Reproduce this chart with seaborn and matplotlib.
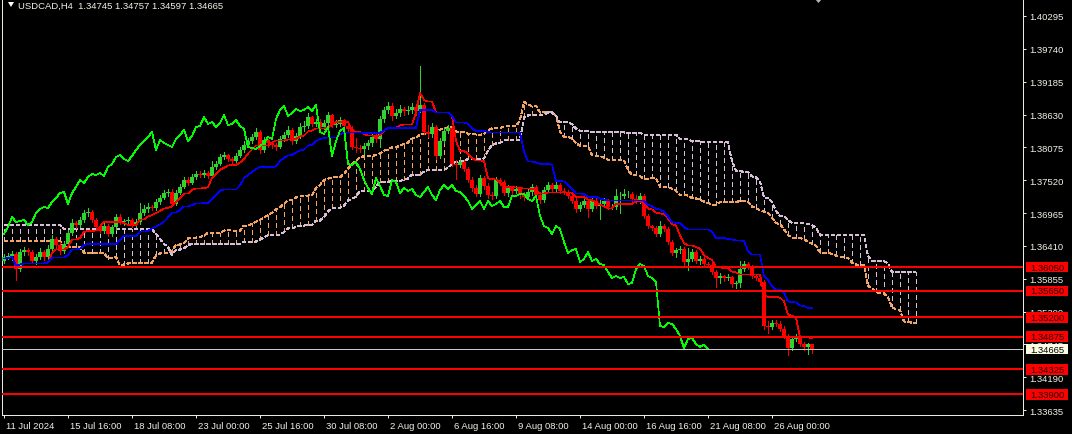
import numpy as np
import pandas as pd
import matplotlib
matplotlib.use("Agg")
import matplotlib.pyplot as plt
import seaborn as sns
from matplotlib import transforms
from matplotlib.patches import Rectangle, Polygon

# ---------------- data ----------------
symbol = "USDCAD,H4"
first_open = 1.36154

closes = [
    1.36222, 1.36239, 1.36272, 1.36019, 1.36306, 1.36340, 1.36306, 1.36154, 1.36222, 1.36306,
    1.36222, 1.36357, 1.36526, 1.36425, 1.36323, 1.36441, 1.36627, 1.36796, 1.36763, 1.36847,
    1.36965, 1.36982, 1.36847, 1.36729, 1.36661, 1.36746, 1.36610, 1.36729, 1.36898, 1.36813,
    1.36830, 1.36847, 1.36763, 1.36813, 1.36965, 1.37033, 1.37067, 1.37050, 1.37151, 1.37219,
    1.37303, 1.37320, 1.37117, 1.37303, 1.37405, 1.37523, 1.37472, 1.37574, 1.37624, 1.37607,
    1.37641, 1.37591, 1.37743, 1.37793, 1.37912, 1.37946, 1.37878, 1.37844, 1.37929, 1.38030,
    1.38115, 1.38182, 1.38250, 1.38334, 1.38030, 1.38199, 1.38148, 1.38115, 1.38081, 1.38216,
    1.38284, 1.38368, 1.38182, 1.38267, 1.38419, 1.38436, 1.38588, 1.38469, 1.38503, 1.38419,
    1.38486, 1.38622, 1.38453, 1.38469, 1.38537, 1.38436, 1.38385, 1.38081, 1.38064, 1.38047,
    1.38098, 1.38148, 1.38250, 1.38216, 1.38554, 1.38706, 1.38774, 1.38605, 1.38655, 1.38723,
    1.38689, 1.38706, 1.38757, 1.38689, 1.38791, 1.38334, 1.38300, 1.38419, 1.37929, 1.38182,
    1.38351, 1.38402, 1.37793, 1.37777, 1.37827, 1.37709, 1.37523, 1.37388, 1.37286, 1.37557,
    1.37422, 1.37269, 1.37253, 1.37523, 1.37489, 1.37303, 1.37388, 1.37337, 1.37371, 1.37269,
    1.37236, 1.37320, 1.37405, 1.37269, 1.37185, 1.37354, 1.37439, 1.37371, 1.37439, 1.37337,
    1.37320, 1.37253, 1.37168, 1.37033, 1.37101, 1.37168, 1.37033, 1.37168, 1.37084, 1.37117,
    1.37168, 1.37067, 1.37067, 1.37253, 1.37253, 1.37286, 1.37286, 1.37202, 1.37168, 1.37253,
    1.36915, 1.36746, 1.36712, 1.36610, 1.36746, 1.36695, 1.36475, 1.36289, 1.36340, 1.36357,
    1.36137, 1.36188, 1.36306, 1.36154, 1.36188, 1.36103, 1.36087, 1.35968, 1.35867, 1.35901,
    1.35867, 1.35884, 1.35765, 1.35782, 1.36019, 1.36103, 1.36070, 1.35901, 1.35867, 1.35799,
    1.35056, 1.35040, 1.35106, 1.35090, 1.35005, 1.34887, 1.34684, 1.34836, 1.34853, 1.34751,
    1.34701, 1.34745, 1.34665]

highs = [
    1.36272, 1.36289, 1.36323, 1.36306, 1.36357, 1.36391, 1.36374, 1.36340, 1.36272, 1.36374,
    1.36340, 1.36425, 1.36594, 1.36560, 1.36475, 1.36492, 1.36678, 1.36864, 1.36830, 1.36898,
    1.37016, 1.37050, 1.37016, 1.36881, 1.36779, 1.36796, 1.36779, 1.36763, 1.36948, 1.36948,
    1.36864, 1.36898, 1.36881, 1.36864, 1.37134, 1.37101, 1.37134, 1.37101, 1.37202, 1.37269,
    1.37354, 1.37371, 1.37371, 1.37354, 1.37456, 1.37574, 1.37574, 1.37624, 1.37675, 1.37675,
    1.37692, 1.37675, 1.37844, 1.37844, 1.37962, 1.37996, 1.37962, 1.37912, 1.37979, 1.38081,
    1.38182, 1.38233, 1.38300, 1.38402, 1.38368, 1.38250, 1.38216, 1.38182, 1.38148, 1.38267,
    1.38334, 1.38436, 1.38402, 1.38317, 1.38486, 1.38520, 1.38655, 1.38605, 1.38554, 1.38554,
    1.38537, 1.38672, 1.38638, 1.38537, 1.38588, 1.38554, 1.38486, 1.38436, 1.38233, 1.38115,
    1.38148, 1.38199, 1.38300, 1.38334, 1.38605, 1.38757, 1.38841, 1.38824, 1.38723, 1.38791,
    1.38757, 1.38774, 1.38824, 1.38807, 1.39450, 1.38824, 1.38453, 1.38486, 1.38453, 1.38233,
    1.38419, 1.38453, 1.38436, 1.37861, 1.37878, 1.37861, 1.37743, 1.37574, 1.37439, 1.37607,
    1.37591, 1.37472, 1.37320, 1.37574, 1.37557, 1.37523, 1.37439, 1.37422, 1.37422, 1.37405,
    1.37320, 1.37371, 1.37456, 1.37439, 1.37320, 1.37405, 1.37489, 1.37472, 1.37489, 1.37472,
    1.37388, 1.37354, 1.37286, 1.37219, 1.37151, 1.37219, 1.37202, 1.37219, 1.37219, 1.37202,
    1.37219, 1.37202, 1.37117, 1.37371, 1.37320, 1.37371, 1.37337, 1.37320, 1.37269, 1.37303,
    1.37286, 1.36948, 1.36763, 1.36746, 1.36830, 1.36779, 1.36729, 1.36509, 1.36374, 1.36408,
    1.36391, 1.36374, 1.36357, 1.36340, 1.36239, 1.36222, 1.36137, 1.36120, 1.36002, 1.35951,
    1.35918, 1.35935, 1.35901, 1.35816, 1.36154, 1.36154, 1.36137, 1.36087, 1.35935, 1.35884,
    1.35833, 1.35140, 1.35157, 1.35157, 1.35140, 1.35056, 1.34921, 1.34887, 1.34921, 1.34887,
    1.34785, 1.34768, 1.34757]

lows = [
    1.36120, 1.36188, 1.36171, 1.35833, 1.35985, 1.36255, 1.36255, 1.36120, 1.36103, 1.36188,
    1.36171, 1.36188, 1.36323, 1.36374, 1.36272, 1.36289, 1.36408, 1.36594, 1.36712, 1.36729,
    1.36813, 1.36915, 1.36813, 1.36695, 1.36627, 1.36627, 1.36576, 1.36576, 1.36678, 1.36779,
    1.36763, 1.36779, 1.36729, 1.36729, 1.36779, 1.36932, 1.36982, 1.37016, 1.37016, 1.37117,
    1.37202, 1.37253, 1.37084, 1.37101, 1.37286, 1.37388, 1.37439, 1.37456, 1.37540, 1.37574,
    1.37574, 1.37557, 1.37574, 1.37709, 1.37777, 1.37878, 1.37844, 1.37810, 1.37810, 1.37912,
    1.37996, 1.38081, 1.38148, 1.38216, 1.37979, 1.37996, 1.38081, 1.38064, 1.38030, 1.38064,
    1.38182, 1.38250, 1.38131, 1.38148, 1.38233, 1.38351, 1.38402, 1.38436, 1.38436, 1.38334,
    1.38385, 1.38436, 1.38419, 1.38419, 1.38436, 1.38385, 1.38334, 1.38047, 1.37996, 1.37996,
    1.37962, 1.38047, 1.38098, 1.38165, 1.38081, 1.38503, 1.38655, 1.38537, 1.38571, 1.38605,
    1.38622, 1.38638, 1.38655, 1.38622, 1.38672, 1.38300, 1.38250, 1.38250, 1.37878, 1.37895,
    1.38148, 1.38317, 1.37760, 1.37540, 1.37743, 1.37675, 1.37489, 1.37337, 1.37253, 1.37253,
    1.37371, 1.37219, 1.37202, 1.37219, 1.37439, 1.37269, 1.37253, 1.37286, 1.37303, 1.37219,
    1.37185, 1.37202, 1.37269, 1.37236, 1.37134, 1.37151, 1.37320, 1.37337, 1.37337, 1.37303,
    1.37286, 1.37219, 1.37134, 1.36982, 1.36999, 1.37067, 1.36898, 1.36999, 1.37050, 1.36864,
    1.37084, 1.37033, 1.37033, 1.37033, 1.36965, 1.37219, 1.37236, 1.37168, 1.37134, 1.37134,
    1.36881, 1.36712, 1.36678, 1.36576, 1.36576, 1.36661, 1.36441, 1.36255, 1.36222, 1.36289,
    1.36087, 1.36002, 1.36154, 1.36120, 1.36103, 1.36070, 1.36053, 1.35935, 1.35715, 1.35782,
    1.35816, 1.35833, 1.35715, 1.35698, 1.35715, 1.35985, 1.36019, 1.35867, 1.35833, 1.35748,
    1.35005, 1.34937, 1.35005, 1.35056, 1.34971, 1.34853, 1.34566, 1.34650, 1.34802, 1.34718,
    1.34650, 1.34583, 1.34597]

# cloud values shifted in from before the first visible bar
span_a_head = [
    1.36492, 1.36492, 1.36492, 1.36492, 1.36492, 1.36492, 1.36492, 1.36492, 1.36492, 1.36492,
    1.36492, 1.36492, 1.36492, 1.36492, 1.36492, 1.36391, 1.36391, 1.36391, 1.36391, 1.36391,
    1.36289, 1.36289, 1.36289, 1.36289, 1.36289, 1.36289]
span_b_head = [
    1.36763, 1.36763, 1.36763, 1.36763, 1.36763, 1.36763, 1.36763, 1.36763, 1.36763, 1.36763,
    1.36763, 1.36763, 1.36763, 1.36763, 1.36763, 1.36695, 1.36695, 1.36695, 1.36695, 1.36695,
    1.36695, 1.36695, 1.36695, 1.36695, 1.36695, 1.36695, 1.36695, 1.36695, 1.36695, 1.36695,
    1.36695, 1.36695, 1.36695, 1.36695, 1.36695, 1.36695, 1.36695, 1.36695, 1.36610, 1.36526,
    1.36441, 1.36391]

time_tick_bars = [0, 16, 32, 48, 64, 80, 96, 112, 128, 144, 160, 176, 192]
time_tick_labels = ["11 Jul 2024", "15 Jul 16:00", "18 Jul 08:00", "23 Jul 00:00",
                    "25 Jul 16:00", "30 Jul 08:00", "2 Aug 00:00", "6 Aug 16:00",
                    "9 Aug 08:00", "14 Aug 00:00", "16 Aug 16:00", "21 Aug 08:00",
                    "26 Aug 00:00"]
price_ticks = [1.40295, 1.39740, 1.39185, 1.38630, 1.38075, 1.37520, 1.36965,
               1.36410, 1.35855, 1.35300, 1.34745, 1.34190, 1.33635]
levels = [1.36050, 1.35650, 1.35200, 1.34875, 1.34325, 1.33900]
current_price = 1.34665

# ---------------- indicators (Ichimoku 9/26/52) ----------------
n = len(closes)
opens = [first_open] + closes[:-1]
df = pd.DataFrame({"o": opens, "h": highs, "l": lows, "c": closes})


def midline(p):
    return (df["h"].rolling(p, min_periods=1).max() + df["l"].rolling(p, min_periods=1).min()) / 2


tenkan = midline(9).values
kijun = midline(26).values
span_b_calc = midline(52).values
span_a_calc = (tenkan + kijun) / 2
K = n + 26
span_a = np.empty(K)
span_b = np.empty(K)
span_a[:26] = span_a_head
span_a[26:] = span_a_calc
span_b[26:] = span_b_calc
span_b[:len(span_b_head)] = span_b_head

# ---------------- styling ----------------
plt.rcParams["font.family"] = ["Liberation Sans", "DejaVu Sans"]
plt.rcParams["lines.scale_dashes"] = False
FS = 6.8
FG = "#f2f2e6"
GREEN = "#2fd42f"
RED = "#ff0000"
SANDY = "#f4a460"
THISTLE = "#d8bfd8"
LW = 0.5

W, H = 1072, 435
fig = plt.figure(figsize=(W / 100, H / 100), dpi=100, facecolor="black")
ax = fig.add_axes([2 / W, 19 / H, 1021 / W, 416 / H])
ax.set_facecolor("black")

x = np.arange(n)
o = np.array(opens)
c = np.array(closes)
up = c >= o
cols = np.where(up, GREEN, RED)

# cloud hatch
ks = np.arange(K)
hk = ks[::2]
lo = np.minimum(span_a[hk], span_b[hk])
hi = np.maximum(span_a[hk], span_b[hk])
hcol = np.where(span_a[hk] >= span_b[hk], SANDY, THISTLE)
ax.vlines(hk, lo, hi, colors=hcol, linestyles=[(0, (3.0, 2.2))], lw=LW,
          antialiased=False, zorder=1)
ax.plot(ks, span_a, color=SANDY, lw=LW, ls=(0, (2.6, 1.6)), antialiased=False, zorder=2)
ax.plot(ks, span_b, color=THISTLE, lw=LW, ls=(0, (2.6, 1.6)), antialiased=False, zorder=2)

# candles
ax.vlines(x, lows, highs, colors=cols, lw=LW, antialiased=False, zorder=3)
ax.bar(x, np.maximum(np.abs(c - o), 0.00004), bottom=np.minimum(o, c), width=0.78,
       color=cols, linewidth=0, antialiased=False, zorder=4)

# ichimoku lines
sns.lineplot(x=x, y=tenkan, ax=ax, color="#ff0000", linewidth=LW, estimator=None,
             sort=False, antialiased=False, zorder=5)
sns.lineplot(x=x, y=kijun, ax=ax, color="#0000ff", linewidth=LW, estimator=None,
             sort=False, antialiased=False, zorder=5)
sns.lineplot(x=x[:n - 26], y=c[26:], ax=ax, color="#00ff00", linewidth=LW,
             estimator=None, sort=False, antialiased=False, zorder=5)

# horizontal levels
for lv in levels:
    ax.axhline(lv, color=RED, lw=1.2, antialiased=False, zorder=6)
ax.axhline(current_price, color="#c8c8c8", lw=LW, antialiased=False, zorder=6)

# axes limits & frame
ymax = 1.40582
ymin = 1.335516
ax.set_xlim(-0.5, 254.75)
ax.set_ylim(ymin, ymax)
for s in ["left", "bottom", "right"]:
    ax.spines[s].set_color(FG)
    ax.spines[s].set_linewidth(0.7)
ax.spines["top"].set_visible(False)

ax.set_xticks(time_tick_bars)
ax.set_xticklabels(time_tick_labels, ha="left")
ax.set_yticks(price_ticks)
ax.set_yticklabels([f"{p:.5f}" for p in price_ticks])
ax.yaxis.tick_right()
ax.tick_params(axis="y", right=True, left=False, labelright=True, labelleft=False,
               direction="out", length=2.3, width=0.7, color=FG, labelcolor=FG,
               labelsize=FS, pad=2.2)
ax.tick_params(axis="x", direction="out", length=2.5, width=0.7, color=FG,
               labelcolor=FG, labelsize=FS, pad=1.8)
off = transforms.ScaledTranslation(1.5 / 100, 0, fig.dpi_scale_trans)
for lbl in ax.get_xticklabels():
    lbl.set_transform(lbl.get_transform() + off)
ax.set_xlabel("")
ax.set_ylabel("")

# price labels on the right axis
px = (ymax - ymin) / 416.0
bt = transforms.blended_transform_factory(fig.transFigure, ax.transData)
for lv in levels:
    ax.add_patch(Rectangle((1026 / W, lv - 5.3 * px), 42 / W, 10.6 * px, transform=bt,
                           facecolor=RED, edgecolor="none", clip_on=False, zorder=20))
    ax.text(1047 / W, lv, f"{lv:.5f}", transform=bt, ha="center", va="center",
            fontsize=FS, color="#2a0000", clip_on=False, zorder=21)
ax.add_patch(Rectangle((1026 / W, current_price - 5.3 * px), 42 / W, 10.6 * px, transform=bt,
                       facecolor="#fbfbe4", edgecolor="none", clip_on=False, zorder=20))
ax.text(1047 / W, current_price, f"{current_price:.5f}", transform=bt, ha="center",
        va="center", fontsize=FS, color="black", clip_on=False, zorder=21)

# title
fig.add_artist(Polygon([(8 / W, 1 - 3 / H), (14 / W, 1 - 3 / H), (11 / W, 1 - 8 / H)],
                       closed=True, transform=fig.transFigure, facecolor="white",
                       edgecolor="none"))
title = f"{symbol}  {closes[-2]:.5f} {highs[-1]:.5f} {lows[-1]:.5f} {closes[-1]:.5f}"
fig.text(18 / W, 1 - 6.5 / H, title, color=FG, fontsize=FS, va="center", ha="left")
# chart shift marker
fig.add_artist(Polygon([(815 / W, 1.0), (822 / W, 1.0), (818.5 / W, 1 - 4 / H)],
                       closed=True, transform=fig.transFigure, facecolor="#b4b4b4",
                       edgecolor="none"))

fig.savefig("out.png", dpi=100, facecolor="black")
